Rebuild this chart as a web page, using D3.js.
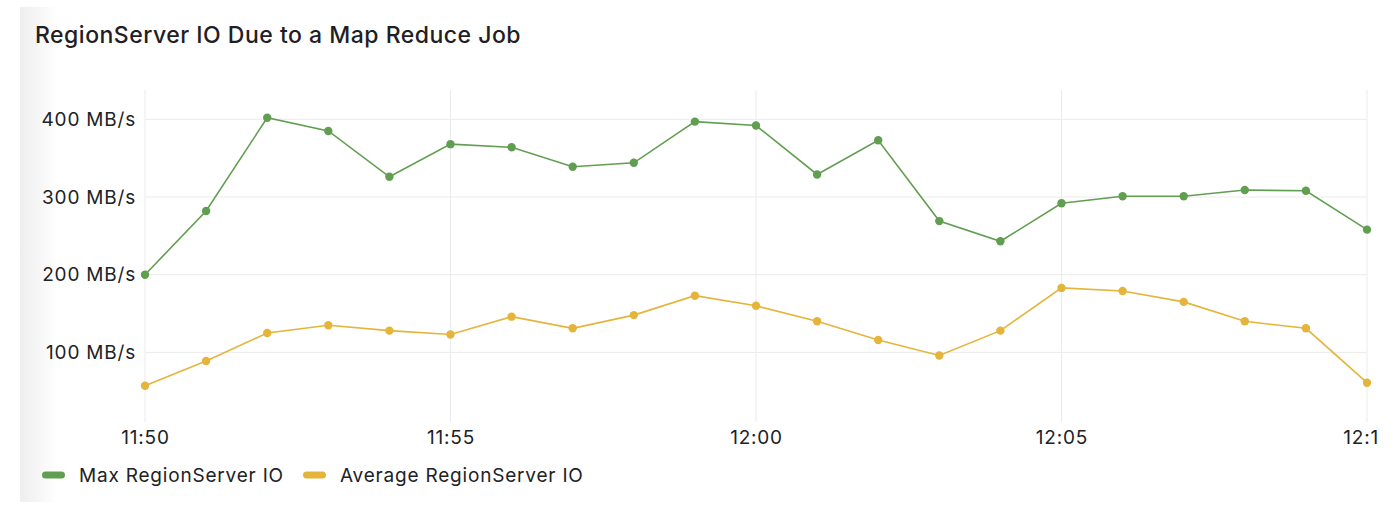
<!DOCTYPE html>
<html>
<head>
<meta charset="utf-8">
<script src="https://cdn.jsdelivr.net/npm/d3@7"></script>
<style>
  html, body { margin: 0; padding: 0; background: #ffffff; }
  svg { display: block; font-family: Inter, "Noto Sans", sans-serif; }
</style>
</head>
<body>
<svg id="chart" width="1394" height="514"></svg>
<script>
// ---- data ----
const title = "RegionServer IO Due to a Map Reduce Job";
const times = ["11:50","11:51","11:52","11:53","11:54","11:55","11:56","11:57","11:58","11:59",
               "12:00","12:01","12:02","12:03","12:04","12:05","12:06","12:07","12:08","12:09","12:10"];
const maxIO = [200, 282, 402, 385, 326, 368, 364, 339, 344, 397,
               392, 329, 373, 269, 243, 292, 301, 301, 309, 308, 258];
const avgIO = [57, 89, 125, 135, 128, 123, 146, 131, 148, 173,
               160, 140, 116, 96, 128, 183, 179, 165, 140, 131, 61];
const seriesNames = ["Max RegionServer IO", "Average RegionServer IO"];
const seriesColors = ["#629e51", "#e5b43a"];
const yTicks = [100, 200, 300, 400];
const xTickLabels = ["11:50", "11:55", "12:00", "12:05", "12:10"];

// ---- layout ----
const svg = d3.select("#chart");
const parse = d3.timeParse("%H:%M");
const dates = times.map(parse);

const defs = svg.append("defs");
const grad = defs.append("linearGradient").attr("id", "edge").attr("x1", 0).attr("x2", 1).attr("y1", 0).attr("y2", 0);
grad.append("stop").attr("offset", "0%").attr("stop-color", "#eeeeee");
grad.append("stop").attr("offset", "100%").attr("stop-color", "#ffffff");
defs.append("clipPath").attr("id", "clip").append("rect").attr("x", 0).attr("y", 0).attr("width", 1378).attr("height", 514);

svg.append("rect").attr("x", 20).attr("y", 7).attr("width", 38).attr("height", 495).attr("fill", "url(#edge)");

const root = svg.append("g").attr("clip-path", "url(#clip)");

const x = d3.scaleTime().domain([parse("11:50"), parse("12:10")]).range([145, 1367]);
const y = d3.scaleLinear().domain([0, 400]).range([430.1, 119.3]);
const plotTop = 90, plotBottom = 422;

// gridlines
root.append("g").selectAll("line").data(yTicks).join("line")
  .attr("x1", 145).attr("x2", 1367)
  .attr("y1", d => y(d)).attr("y2", d => y(d))
  .attr("stroke", "#ebebeb").attr("stroke-width", 1);
root.append("g").selectAll("line").data(xTickLabels.map(parse)).join("line")
  .attr("x1", d => x(d)).attr("x2", d => x(d))
  .attr("y1", plotTop).attr("y2", plotBottom)
  .attr("stroke", "#ebebeb").attr("stroke-width", 1);

const labelStyle = sel => sel.attr("font-size", 19).attr("letter-spacing", 0.8)
  .attr("fill", "#202226").attr("font-family", "Inter, sans-serif");

// y axis labels
const yAxis = d3.axisLeft(y).tickValues(yTicks).tickSize(0).tickPadding(0)
  .tickFormat(d => d + " MB/s");
const yg = root.append("g").attr("transform", "translate(136,0)").call(yAxis);
yg.select(".domain").remove();
yg.selectAll("text").call(labelStyle);

// x axis labels
const xAxis = d3.axisBottom(x).tickValues(xTickLabels.map(parse)).tickSize(0).tickPadding(0)
  .tickFormat(d3.timeFormat("%H:%M"));
const xg = root.append("g").attr("transform", "translate(0,430)").call(xAxis);
xg.select(".domain").remove();
xg.selectAll("text").call(labelStyle);

// lines + points
const series = [maxIO, avgIO];
series.forEach((vals, i) => {
  const pts = vals.map((v, j) => [dates[j], v]);
  root.append("path").datum(pts)
    .attr("fill", "none").attr("stroke", seriesColors[i]).attr("stroke-width", 1.6)
    .attr("d", d3.line().x(d => x(d[0])).y(d => y(d[1])));
  root.append("g").selectAll("circle").data(pts).join("circle")
    .attr("cx", d => x(d[0])).attr("cy", d => y(d[1])).attr("r", 4.2)
    .attr("fill", seriesColors[i]);
});

// title
svg.append("text").attr("x", 35).attr("y", 43).text(title)
  .attr("font-size", 23).attr("letter-spacing", 0.5).attr("font-weight", 500).attr("fill", "#1f2024");

// legend
const legendX = [42, 303];
seriesNames.forEach((name, i) => {
  svg.append("rect").attr("x", legendX[i]).attr("y", 471.5).attr("width", 23).attr("height", 7)
    .attr("rx", 3.5).attr("fill", seriesColors[i]);
  svg.append("text").attr("x", legendX[i] + 37).attr("y", 481.5).text(name)
    .call(labelStyle);
});
</script>
</body>
</html>
